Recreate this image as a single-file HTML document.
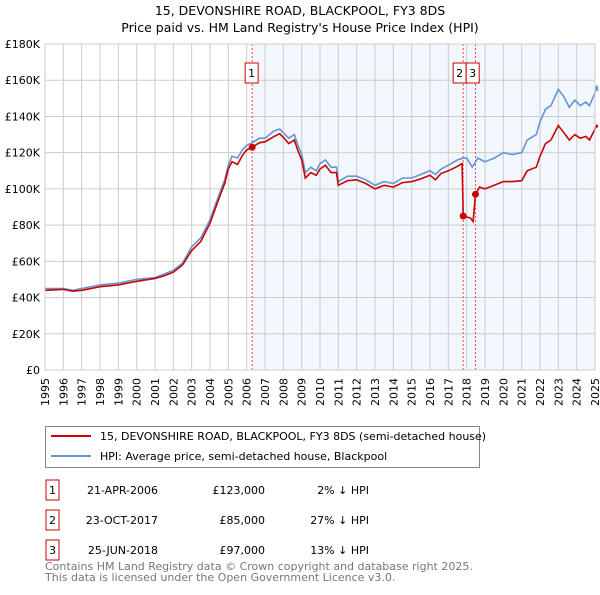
<!DOCTYPE html>
<html><head><meta charset="utf-8"><style>
body{margin:0;background:#fff;font-family:"Liberation Sans","DejaVu Sans",sans-serif;}
svg text{font-family:"DejaVu Sans","Liberation Sans",sans-serif;}
</style></head><body>
<svg id="c" width="600" height="590" viewBox="0 0 600 590" xmlns="http://www.w3.org/2000/svg">
<text x="300" y="15" text-anchor="middle" font-size="12.5" fill="#000">15, DEVONSHIRE ROAD, BLACKPOOL, FY3 8DS</text>
<text x="300" y="32" text-anchor="middle" font-size="12.5" fill="#000">Price paid vs. HM Land Registry's House Price Index (HPI)</text>
<g id="plot"></g>
<g>
<rect x="45.5" y="426.5" width="434" height="41" fill="#fff" stroke="#888"/>
<line x1="51" y1="436" x2="91" y2="436" stroke="#cc0000" stroke-width="2"/>
<text x="100" y="440" font-size="11">15, DEVONSHIRE ROAD, BLACKPOOL, FY3 8DS (semi-detached house)</text>
<line x1="51" y1="456" x2="91" y2="456" stroke="#6495d6" stroke-width="2"/>
<text x="100" y="460" font-size="11">HPI: Average price, semi-detached house, Blackpool</text>
</g>
<g id="table" font-size="11"></g>
<text x="45" y="570" font-size="11" fill="#777">Contains HM Land Registry data © Crown copyright and database right 2025.</text>
<text x="45" y="581" font-size="11" fill="#777">This data is licensed under the Open Government Licence v3.0.</text>
</svg>
<script>
const hpiYears=[1995,1996,1996.5,1997,1998,1999,2000,2001,2001.5,2002,2002.5,2003,2003.5,2004,2004.5,2004.8,2005,2005.2,2005.5,2005.8,2006,2006.3,2006.7,2007,2007.5,2007.8,2008,2008.3,2008.6,2008.8,2009,2009.2,2009.5,2009.8,2010,2010.3,2010.6,2010.9,2011,2011.5,2012,2012.5,2013,2013.5,2014,2014.5,2015,2015.5,2016,2016.3,2016.6,2017,2017.5,2017.8,2018,2018.3,2018.6,2019,2019.5,2020,2020.5,2021,2021.3,2021.8,2022,2022.3,2022.6,2023,2023.3,2023.6,2023.9,2024.2,2024.5,2024.7,2025,2025.1,2025.15];
const hpiValues=[45,45,44,45,47,48,50,51,53,55,59,68,73,83,97,105,113,118,117,122,124,125.5,128,128,132,133,131,128,130,124,119,109,112,110,114,116,112,112,104,107,107,105,102,104,103,106,106,108,110,108,111,113,116,117,117,112,117,115,117,120,119,120,127,130,137,144,146,155,151,145,149,146,148,146,153,157,154];
const priceYears=[1995,1996,1996.5,1997,1998,1999,2000,2001,2001.5,2002,2002.5,2003,2003.5,2004,2004.5,2004.8,2005,2005.2,2005.5,2005.8,2006,2006.3,2006.7,2007,2007.5,2007.8,2008,2008.3,2008.6,2008.8,2009,2009.2,2009.5,2009.8,2010,2010.3,2010.6,2010.9,2011,2011.5,2012,2012.5,2013,2013.5,2014,2014.5,2015,2015.5,2016,2016.3,2016.6,2017,2017.5,2017.75,2017.81,2018.2,2018.35,2018.48,2018.7,2019,2019.5,2020,2020.5,2021,2021.3,2021.8,2022,2022.3,2022.6,2023,2023.3,2023.6,2023.9,2024.2,2024.5,2024.7,2025,2025.1,2025.15];
const priceValues=[44,44.5,43.5,44,46,47,49,50.5,52,54,58,66,71,81,95,103,111,115,113.5,119,121.5,123,125.5,126,129,130.5,128.5,125,127,121,116,106,109,107.5,111,113,109,109,102,104.5,105,103,100,102,101,103.5,104,105.5,107.5,105,108.5,110,112.5,114,85,84,82,97,101,100,102,104,104,104.5,110,112,118,125,127,135,131,127,130,128,129,127,133,135,134];
const saleYears=[2006.3,2017.81,2018.48];
const saleValues=[123,85,97];
const saleLabels=["1","2","3"];
const saleDates=["21-APR-2006","23-OCT-2017","25-JUN-2018"];
const salePrices=["£123,000","£85,000","£97,000"];
const saleDiffs=["2% ↓ HPI","27% ↓ HPI","13% ↓ HPI"];
const yTicks=[0,20,40,60,80,100,120,140,160,180];
const yTickLabels=["£0","£20K","£40K","£60K","£80K","£100K","£120K","£140K","£160K","£180K"];
const xTicks=[1995,1996,1997,1998,1999,2000,2001,2002,2003,2004,2005,2006,2007,2008,2009,2010,2011,2012,2013,2014,2015,2016,2017,2018,2019,2020,2021,2022,2023,2024,2025];

const L=45,R=595,T=44,B=370,Y0=1995,Y1=2025,VMAX=180;
const xs=y=>L+(y-Y0)/(Y1-Y0)*(R-L);
const ys=v=>B-v/VMAX*(B-T);
const NS="http://www.w3.org/2000/svg";
const plot=document.getElementById('plot');
function mk(tag,attrs,parent){const e=document.createElementNS(NS,tag);for(const k in attrs)e.setAttribute(k,attrs[k]);(parent||plot).appendChild(e);return e;}
let e;
e=mk('rect',{x:L,y:T,width:R-L,height:B-T,fill:'#fff'});


e=mk('rect',{x:xs(saleYears[0]),y:T,width:R-xs(saleYears[0]),height:B-T,fill:'#f2f6fd'});


xTicks.forEach(t=>{
 e=mk('line',{x1:xs(t),x2:xs(t),y1:T,y2:B,stroke:'#cccccc','stroke-width':1});
 
 
 e=mk('text',{x:0,y:0,'font-size':11,'text-anchor':'end',transform:`translate(${xs(t)+4},${B+8}) rotate(-90)`});
 e.textContent=t;
 
 
});
yTicks.forEach((t,i)=>{
 e=mk('line',{x1:L,x2:R,y1:ys(t),y2:ys(t),stroke:'#cccccc','stroke-width':1});
 
 
 e=mk('text',{x:L-5,y:ys(t)+4,'font-size':11,'text-anchor':'end'});
 e.textContent=yTickLabels[i];
 
 
});
saleYears.forEach((s,i)=>{
 e=mk('line',{x1:xs(s),x2:xs(s),y1:T,y2:B,stroke:'#ee4444','stroke-width':1,'stroke-dasharray':'2,2'});
 
 
});
function pts(xa,va){return xa.map((x,i)=>xs(x).toFixed(1)+','+ys(va[i]).toFixed(1)).join(' ');}
e=mk('polyline',{points:pts(hpiYears,hpiValues),fill:'none',stroke:'#6495d6','stroke-width':1.6});


e=mk('polyline',{points:pts(priceYears,priceValues),fill:'none',stroke:'#cc0000','stroke-width':1.6});


saleYears.forEach((s,i)=>{
 e=mk('circle',{cx:xs(s),cy:ys(saleValues[i]),r:3.5,fill:'#cc0000'});
 
 
 const bx=i===1?xs(s)-10:(i===2?xs(saleYears[1])+3:xs(s)-7);
 e=mk('rect',{x:bx,y:63,width:13,height:20,fill:'#fff',stroke:'#cc0000'});
 
 
 e=mk('text',{x:bx+6.5,y:77,'font-size':11,'text-anchor':'middle'});
 e.textContent=saleLabels[i];
 
 
});
e=mk('rect',{x:L,y:T,width:R-L,height:B-T,fill:'none',stroke:'#cccccc'});
const tb=document.getElementById('table');
saleLabels.forEach((l,i)=>{
 const y=493+i*30;
 const g=mk('g',{},tb);
 
 
 mk('rect',{x:46,y:y-13,width:13,height:20,fill:'#fff',stroke:'#cc0000'},g);
 let t=mk('text',{x:52.5,y:y+1,'text-anchor':'middle'},g);t.textContent=l;
 t=mk('text',{x:158,y:y+1,'text-anchor':'end'},g);t.textContent=saleDates[i];
 t=mk('text',{x:265,y:y+1,'text-anchor':'end'},g);t.textContent=salePrices[i];
 t=mk('text',{x:369,y:y+1,'text-anchor':'end'},g);t.textContent=saleDiffs[i];
});
</script>
</body></html>
